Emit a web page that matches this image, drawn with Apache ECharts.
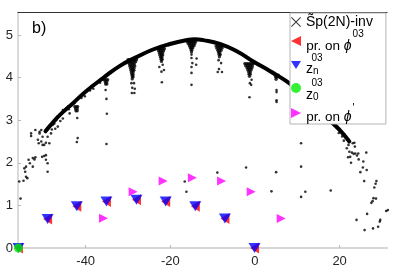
<!DOCTYPE html>
<html><head><meta charset="utf-8">
<script src="https://cdn.jsdelivr.net/npm/echarts@6/dist/echarts.min.js"></script>
<style>html,body{margin:0;padding:0;background:#fff}#c{width:397px;height:280px}</style>
</head><body><div id="c"></div>
<script>
const xTickValues = [-40, -20, 0, 20];
const yTickValues = [0, 1, 2, 3, 4, 5];
const seriesNames = ['Sp(2N)-inv', 'pr. on phi03', 'zn03', 'z003', 'pr. on phi*'];

// dense arch band (read along its centre)
const spBand = [
  [-49.5, 2.74], [-48.5, 2.86], [-47.0, 3.03], [-45.4, 3.19], [-43.0, 3.40], [-39.9, 3.68], [-35.9, 3.99],
  [-32.0, 4.27], [-28.0, 4.48], [-24.1, 4.66], [-20.1, 4.79], [-16.2, 4.88], [-14.2, 4.90],
  [-12.2, 4.88], [-8.3, 4.79], [-4.3, 4.62], [-0.4, 4.38], [3.6, 4.15], [7.5, 3.91],
  [11.0, 3.64], [14.0, 3.36], [17.0, 3.06], [20.1, 2.76], [22.3, 2.50]
];

// dense clusters hanging below the band
const spDrips = [
  [-42.6,3.32],[-42.2,3.32],[-41.9,3.32],[-42.4,3.27],[-42.0,3.27],[-42.3,3.22],[-42.0,3.22],
  [-35.6,3.95],[-35.2,3.95],[-34.8,3.95],[-35.4,3.90],[-35.0,3.90],[-35.3,3.85],[-35.0,3.85],
  [-30.0,4.42],[-29.6,4.42],[-29.2,4.42],[-28.8,4.42],[-28.4,4.42],[-28.0,4.42],
  [-29.8,4.37],[-29.4,4.37],[-29.0,4.37],[-28.6,4.37],[-28.2,4.37],
  [-29.7,4.32],[-29.3,4.32],[-28.9,4.32],[-28.5,4.32],
  [-29.6,4.27],[-29.2,4.27],[-28.8,4.27],[-28.4,4.27],
  [-29.4,4.22],[-29.0,4.22],[-28.6,4.22],[-29.3,4.17],[-28.9,4.17],[-28.6,4.17],
  [-29.2,4.12],[-28.8,4.12],[-29.1,4.07],[-28.8,4.07],[-29.0,4.02],[-28.8,4.02],[-29.0,3.97],
  [-23.0,4.68],[-22.6,4.68],[-22.2,4.68],[-21.8,4.68],[-21.4,4.68],
  [-22.8,4.63],[-22.4,4.63],[-22.0,4.63],[-21.6,4.63],
  [-22.6,4.58],[-22.2,4.58],[-21.8,4.58],[-22.5,4.53],[-22.1,4.53],[-21.8,4.53],
  [-22.3,4.48],[-22.0,4.48],[-22.2,4.43],[-21.9,4.43],[-22.1,4.38],
  [-16.0,4.85],[-15.6,4.85],[-15.2,4.85],[-14.8,4.85],[-14.4,4.85],[-14.0,4.85],
  [-15.8,4.80],[-15.4,4.80],[-15.0,4.80],[-14.6,4.80],[-14.2,4.80],
  [-15.5,4.75],[-15.1,4.75],[-14.7,4.75],[-14.4,4.75],
  [-15.3,4.70],[-15.0,4.70],[-14.7,4.70],[-15.1,4.65],[-14.9,4.65],[-15.0,4.60],
  [-9.2,4.74],[-8.8,4.74],[-8.4,4.74],[-8.0,4.74],[-7.6,4.74],
  [-9.0,4.69],[-8.6,4.69],[-8.2,4.69],[-7.8,4.69],
  [-8.8,4.64],[-8.4,4.64],[-8.0,4.64],[-8.6,4.59],[-8.3,4.59],[-8.5,4.54],[-8.2,4.54],[-8.4,4.49],
  [-2.4,4.33],[-2.0,4.33],[-1.6,4.33],[-1.2,4.33],[-0.8,4.33],[-0.4,4.33],
  [-2.2,4.28],[-1.8,4.28],[-1.4,4.28],[-1.0,4.28],[-0.6,4.28],
  [-1.9,4.23],[-1.5,4.23],[-1.1,4.23],[-0.7,4.23],
  [-1.7,4.18],[-1.3,4.18],[-0.9,4.18],[-1.5,4.13],[-1.1,4.13],[-1.4,4.08],[-1.1,4.08],[-1.3,4.03],
  [4.7,4.06],[5.1,4.06],[5.5,4.06],[4.9,4.01],[5.2,4.01],[5.0,3.96]
];

// individual Sp(2N)-invariant points
const spPoints = [
  // left cloud
  [-55.7,1.56],[-55.4,1.16],[-54.7,1.58],[-54.1,1.67],[-53.8,1.64],[-54.3,1.79],[-54.5,1.87],[-54.1,1.91],
  [-53.5,2.07],[-53.2,1.99],[-52.5,2.11],[-52.1,2.08],[-52.5,1.91],[-51.9,2.13],[-52.9,2.63],[-52.9,2.69],
  [-51.9,2.77],[-50.9,2.73],[-51.3,2.54],[-50.2,2.61],[-49.8,2.42],[-50.3,2.14],[-49.4,2.18],[-49.0,1.79],
  [-49.0,1.99],[-49.4,2.07],[-49.8,2.16],[-48.6,2.46],[-48.2,2.69],[-47.8,2.89],[-47.0,3.00],[-46.2,3.12],
  [-44.6,3.28],[-43.8,3.16],[-45.4,3.04],[-46.6,2.85],[-50.5,2.77],[-49.0,2.61],[-51.1,2.46],[-50.5,2.50],
  [-50.2,2.42],[-49.4,2.47],[-50.9,2.69],[-49.4,2.77],[-48.6,2.85],[-45.4,3.24],[-44.2,3.32],[-42.7,3.40],
  [-48.0,2.78],[-47.4,2.92],[-46.8,3.08],[-45.9,3.15],[-44.9,3.22],[-44.0,3.26],[-47.2,2.80],[-46.0,2.98],
  [-41.0,3.52],[-40.2,3.56],[-39.0,3.70],[-38.2,3.74],[-37.4,3.86],[-36.6,3.88],[-40.6,3.64],[-38.6,3.80],
  // below the drips
  [-42.0,3.05],[-41.9,2.58],[-42.1,2.49],
  [-35.3,3.71],[-35.1,3.50],[-35.0,3.15],[-35.1,2.44],
  [-29.2,3.87],[-28.6,3.87],[-29.0,3.76],[-28.4,3.74],[-29.1,3.64],[-28.5,3.64],
  [-21.8,4.30],[-22.1,4.14],[-21.5,4.18],[-22.0,3.89],[-22.6,4.25],
  [-15.0,4.54],[-15.0,4.46],[-14.8,4.34],[-15.0,4.25],[-15.0,4.11],[-15.0,3.83],[-13.8,4.45],[-13.9,4.30],
  [-8.6,4.41],[-8.0,4.34],[-8.5,4.20],[-7.8,4.13],[-8.8,4.13],
  [-1.2,3.87],[-0.9,3.83],[-1.3,3.54],[-0.8,3.95],
  [5.1,3.71],[5.1,3.66],[5.1,3.47],[5.1,3.43],
  // middle scattered
  [-8.9,1.77],[-2.1,1.89],[5.0,1.78],[10.9,2.46],[10.9,1.91],[3.9,1.33],[11.9,1.32],[10.9,1.20],
  [17.9,1.35],[-16.6,1.56],[-16.2,1.32],
  // right side
  [19.5,2.85],[20.0,2.80],[20.4,2.74],[20.8,2.70],[21.2,2.66],[21.6,2.60],[22.0,2.56],[19.8,2.70],
  [20.6,2.62],[21.0,2.52],[21.7,2.34],[22.3,2.26],[22.9,2.24],[23.3,2.21],[23.7,2.22],[24.1,2.17],
  [23.1,2.46],[23.5,2.47],[22.1,2.42],[22.5,2.14],[22.0,2.13],[22.7,2.00],[24.5,2.08],[26.3,2.24],
  [23.6,2.38],[24.4,2.22],[25.6,2.03],[26.4,1.83],
  [25.5,1.89],[24.9,1.78],[25.8,1.57],[28.7,1.57],[28.5,1.51],[28.2,1.42],[28.0,1.17],[27.8,1.10],
  [27.5,1.06],[28.6,1.16],[26.5,0.80],[24.0,0.66],[25.9,0.42],[27.9,0.46],[29.1,0.50],[29.6,0.66],
  [29.5,0.62],[31.0,0.87],[31.4,0.89]
];

const projPhi03 = [[-55.9,0.0],[-49.0,0.68],[-42.1,0.98],[-35.1,1.09],[-28.0,1.13],[-21.1,1.09],[-14.1,0.98],[-7.1,0.69],[-0.1,0.0]];
const zn03 = [[-55.9,0.0],[-49.0,0.68],[-42.1,0.98],[-35.1,1.09],[-28.0,1.13],[-21.1,1.09],[-14.1,0.98],[-7.1,0.69],[-0.1,0.0]];
const z003 = [[-55.9, 0.0]];
const projPhiStar = [[-35.8,0.70],[-28.8,1.32],[-21.7,1.57],[-14.8,1.65],[-7.9,1.57],[-0.9,1.32],[6.2,0.69]];

const F = 'Liberation Sans, Arial, sans-serif';
const leftTri = 'path://M0,5L10,0L10,10Z';
const downTri = 'path://M0,0L10,0L5,8Z';
const rightTri = 'path://M0,0L9,4.5L0,9Z';
const crossIcon = 'path://M0,0.7L0.7,0L5,4.3L9.3,0L10,0.7L5.7,5L10,9.3L9.3,10L5,5.7L0.7,10L0,9.3L4.3,5Z';

const legendText = {};
legendText[seriesNames[0]] = '{a|S\u0303p(2N)-inv}';
legendText[seriesNames[1]] = '{h24| }{b|pr. on }{ph|\u03d5}{s2|03}';
legendText[seriesNames[2]] = '{w3|  }{s3|03}\n{z3|z}{n3|n}{h14| }';
legendText[seriesNames[3]] = '{w4|  }{s4|03}\n{z4|z}{n4|0}{h14| }';
legendText[seriesNames[4]] = '{h22| }{b5|pr. on }{ph5|\u03d5}{s5|\'}';

const T = (o) => Object.assign({ fontFamily: F, color: '#000' }, o);

const chart = echarts.init(document.getElementById('c'), null, { renderer: 'canvas' });
chart.setOption({
  animation: false,
  backgroundColor: '#fff',
  title: {
    text: 'b)', left: 32, top: 21, padding: 0,
    textStyle: { fontFamily: F, fontSize: 16, fontWeight: 'normal', color: '#000' }
  },
  grid: { left: 18, right: 10, top: 12, bottom: 32, outerBoundsMode: 'none', containLabel: false },
  xAxis: [{
    type: 'value', min: -56, max: 31.2,
    axisLine: { onZero: false, lineStyle: { color: '#d6d6d6', width: 2 } },
    axisTick: { inside: true, length: 3, lineStyle: { color: '#b8b8b8' }, customValues: xTickValues },
    axisLabel: {
      customValues: xTickValues,
      fontFamily: F, fontSize: 13, color: '#262626', margin: 7,
      formatter: (v) => (xTickValues.indexOf(v) >= 0 ? String(v) : '')
    },
    splitLine: { show: false }
  }, {
    type: 'value', position: 'top', min: -56, max: 31.2,
    axisLine: { show: true, onZero: false, lineStyle: { color: '#333', width: 1 } },
    axisTick: { show: false }, axisLabel: { show: false }, splitLine: { show: false }
  }],
  yAxis: {
    type: 'value', min: 0, max: 5.54,
    axisLine: { show: true, onZero: false, lineStyle: { color: '#cfcfcf', width: 1.5 } },
    axisTick: { show: true, inside: true, length: 3, lineStyle: { color: '#b8b8b8' }, customValues: yTickValues },
    axisLabel: {
      customValues: yTickValues,
      fontFamily: F, fontSize: 13, color: '#262626', margin: 5,
      formatter: (v) => (yTickValues.indexOf(v) >= 0 ? String(v) : '')
    },
    splitLine: { show: false }
  },
  legend: {
    orient: 'vertical', left: 290, top: 13,
    padding: [2, 13, 0, 1], itemGap: 0, itemWidth: 10, itemHeight: 10,
    backgroundColor: '#fff', borderColor: '#b4b4b4', borderWidth: 1, borderRadius: 0,
    selectedMode: false,
    data: [
      { name: seriesNames[0], icon: crossIcon },
      { name: seriesNames[1], icon: leftTri },
      { name: seriesNames[2], icon: downTri },
      { name: seriesNames[3], icon: 'circle' },
      { name: seriesNames[4], icon: rightTri }
    ],
    formatter: (name) => legendText[name],
    textStyle: {
      fontFamily: F, color: '#000', fontSize: 13,
      rich: {
        a: T({ fontSize: 14, lineHeight: 16 }),
        h24: T({ fontSize: 1, lineHeight: 24 }),
        b: T({ fontSize: 13.5, lineHeight: 20, verticalAlign: 'bottom' }),
        ph: T({ fontSize: 14, fontStyle: 'italic', lineHeight: 20, verticalAlign: 'bottom' }),
        s2: T({ fontSize: 10, lineHeight: 13, verticalAlign: 'top', padding: [0, 0, 0, 1] }),
        w3: T({ fontSize: 10, lineHeight: 8 }),
        s3: T({ fontSize: 10, lineHeight: 8 }),
        z3: T({ fontSize: 14, lineHeight: 3, verticalAlign: 'top' }),
        n3: T({ fontSize: 10, lineHeight: 13, verticalAlign: 'bottom' }),
        h14: T({ fontSize: 1, lineHeight: 14 }),
        w4: T({ fontSize: 10, lineHeight: 14 }),
        s4: T({ fontSize: 10, lineHeight: 10, verticalAlign: 'bottom' }),
        z4: T({ fontSize: 14, lineHeight: 1, verticalAlign: 'top' }),
        n4: T({ fontSize: 10, lineHeight: 10, verticalAlign: 'bottom' }),
        h22: T({ fontSize: 1, lineHeight: 22 }),
        b5: T({ fontSize: 13.5, lineHeight: 18, verticalAlign: 'bottom' }),
        ph5: T({ fontSize: 14, fontStyle: 'italic', lineHeight: 20, verticalAlign: 'bottom' }),
        s5: T({ fontSize: 11, lineHeight: 16, verticalAlign: 'top', padding: [0, 0, 0, 1] })
      }
    }
  },
  series: [
    {
      name: 'band', type: 'line', data: spBand, smooth: true, showSymbol: false, silent: true,
      lineStyle: { color: '#000', width: 4, cap: 'round', join: 'round' }, z: 2
    },
    {
      name: seriesNames[0], type: 'scatter', data: spDrips, symbol: 'circle', symbolSize: 3.3,
      itemStyle: { color: '#000' }, clip: false, z: 2
    },
    {
      name: seriesNames[0], type: 'scatter', data: spPoints, symbol: 'circle', symbolSize: 2.6,
      itemStyle: { color: '#000' }, clip: false, z: 2
    },
    {
      name: seriesNames[1], type: 'scatter', data: projPhi03, symbol: leftTri, symbolSize: [9, 11],
      itemStyle: { color: '#ff0000' }, clip: false, z: 3
    },
    {
      name: seriesNames[2], type: 'scatter', data: zn03, symbol: downTri, symbolSize: [12, 10],
      itemStyle: { color: '#0000ff' }, clip: false, z: 3
    },
    {
      name: seriesNames[4], type: 'scatter', data: projPhiStar, symbol: rightTri, symbolSize: [9, 9],
      itemStyle: { color: '#ff00ff' }, clip: false, z: 3
    },
    {
      name: seriesNames[3], type: 'scatter', data: z003, symbol: 'circle', symbolSize: 9,
      itemStyle: { color: '#00ee00' }, clip: false, z: 4
    }
  ]
});
</script></body></html>
